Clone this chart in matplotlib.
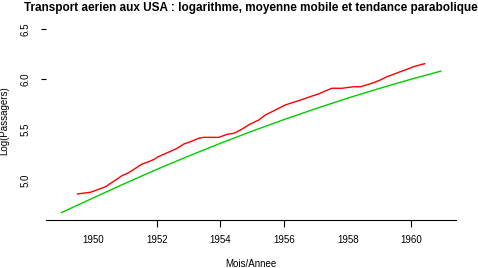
import numpy as np
import matplotlib
matplotlib.use("Agg")
import matplotlib.pyplot as plt

# moyenne mobile du logarithme
mm_annee = [1949.51, 1949.82, 1949.92, 1950.18, 1950.39, 1950.60, 1950.91, 1951.12,
            1951.33, 1951.54, 1951.75, 1951.94, 1952.01, 1952.33, 1952.64, 1952.85,
            1953.06, 1953.32, 1953.47, 1953.74, 1953.95, 1954.21, 1954.42, 1954.63,
            1954.92, 1955.20, 1955.41, 1955.62, 1955.83, 1956.04, 1956.25, 1956.45,
            1956.67, 1956.88, 1957.08, 1957.29, 1957.50, 1957.82, 1958.17, 1958.39,
            1958.58, 1958.81, 1959.02, 1959.23, 1959.44, 1959.65, 1959.86, 1960.06,
            1960.33, 1960.42]
mm_log = [4.860, 4.873, 4.877, 4.907, 4.932, 4.976, 5.042, 5.072,
          5.115, 5.158, 5.181, 5.208, 5.225, 5.270, 5.314, 5.357,
          5.380, 5.414, 5.423, 5.423, 5.423, 5.453, 5.463, 5.496,
          5.553, 5.595, 5.645, 5.678, 5.712, 5.745, 5.767, 5.787,
          5.811, 5.834, 5.854, 5.884, 5.911, 5.911, 5.926, 5.926,
          5.943, 5.966, 5.993, 6.026, 6.050, 6.076, 6.099, 6.125,
          6.149, 6.155]

# tendance parabolique
tend_annee = [1949.0, 1950.0, 1951.0, 1952.0, 1953.0, 1954.0, 1955.0,
              1956.0, 1957.0, 1958.0, 1959.0, 1960.0, 1960.92]
tend_log = [4.674, 4.820, 4.965, 5.104, 5.237, 5.364, 5.485,
            5.600, 5.709, 5.813, 5.910, 6.002, 6.081]

x_ticks = [1950, 1952, 1954, 1956, 1958, 1960]
x_marks = [1952, 1954, 1956, 1960]
y_ticks = [5.0, 5.5, 6.0, 6.5]
y_marks = [6.0, 6.5]

plt.rcParams['font.family'] = ['Liberation Sans', 'DejaVu Sans']

fig = plt.figure(figsize=(4.78, 2.68), dpi=100)
ax = fig.add_axes([46/478, 1-220/268, 410/478, (220-21.7)/268])

ax.plot(mm_annee, mm_log, color='#ff0000', lw=1)
ax.plot(tend_annee, tend_log, color='#00cc00', lw=1)

ax.set_xlim(1948.52, 1961.40)
ax.set_ylim(4.601, 6.573)

for s in ['top', 'right', 'left']:
    ax.spines[s].set_visible(False)
ax.spines['bottom'].set_linewidth(0.8)

# traits de graduation seulement la ou ils sont visibles
ax.xaxis.remove_overlapping_locs = False
ax.yaxis.remove_overlapping_locs = False
ax.set_xticks(x_ticks)
ax.set_xticks(x_marks, minor=True)
ax.set_yticks(y_ticks)
ax.set_yticks(y_marks, minor=True)
ax.tick_params(axis='x', which='major', length=0, pad=11, labelsize=7)
ax.tick_params(axis='x', which='minor', length=5, width=0.8)
ax.tick_params(axis='y', which='major', length=0, pad=11, labelsize=7)
ax.tick_params(axis='y', which='minor', length=3.6, width=0.8)
for lab in ax.get_yticklabels():
    lab.set_rotation(90)
    lab.set_va('center')

ax.set_xlabel('Mois/Annee', fontsize=7, labelpad=10)
ax.set_ylabel('Log(Passagers)', fontsize=7, labelpad=8)
ax.set_title('Transport aerien aux USA : logarithme, moyenne mobile et tendance parabolique',
             fontsize=8.45, fontweight='bold', pad=8)

fig.savefig('out.png', dpi=100)
